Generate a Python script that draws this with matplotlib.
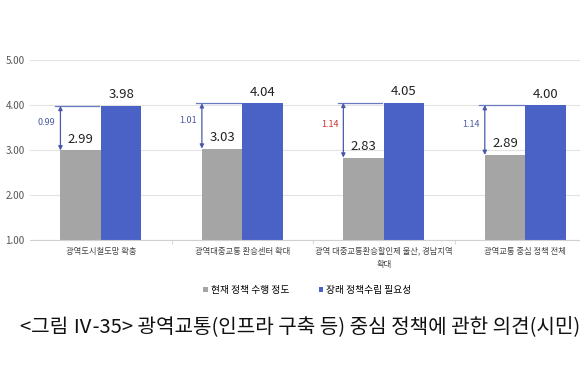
import matplotlib
matplotlib.use("Agg")
import matplotlib.pyplot as plt
import numpy as np

plt.rcParams['font.family'] = ['Noto Sans CJK KR', 'DejaVu Sans']

categories = ["광역도시철도망 확충", "광역대중교통 환승센터 확대",
              "광역 대중교통환승할인제 울산, 경남지역\n확대", "광역교통 중심 정책 전체"]
current = [2.99, 3.03, 2.83, 2.89]
future = [3.98, 4.04, 4.05, 4.00]
gaps = ["0.99", "1.01", "1.14", "1.14"]
gap_colors = ["#4a5a9e", "#4a5a9e", "#d03030", "#4a5a9e"]
series_names = ["현재 정책 수행 정도", "장래 정책수립 필요성"]
yticks = [1.0, 2.0, 3.0, 4.0, 5.0]

fig = plt.figure(figsize=(5.8, 3.9), dpi=100)
ax = fig.add_axes([0.052, 0.385, 0.948, 0.461])

x = np.arange(len(categories))
w = 0.286
gray = "#a5a5a5"
blue = "#4a62c6"
ax.bar(x - w/2, np.array(current) - 1, bottom=1, width=w, color=gray, label=series_names[0])
ax.bar(x + w/2, np.array(future) - 1, bottom=1, width=w, color=blue, label=series_names[1])

for i in range(len(categories)):
    ax.text(x[i] - w/2, current[i] + 0.1, f"{current[i]:.2f}", ha='center', va='bottom',
            fontsize=9.5, color='#222222')
    ax.text(x[i] + w/2, future[i] + 0.1, f"{future[i]:.2f}", ha='center', va='bottom',
            fontsize=9.5, color='#222222')
    ax_x = x[i] - w
    ax.plot([ax_x - 0.04, x[i] - 0.01], [future[i], future[i]], color='#6a7ac0', lw=0.9)
    ax.annotate("", xy=(ax_x, future[i]), xytext=(ax_x, current[i]),
                arrowprops=dict(arrowstyle='<|-|>', color='#4a5aa8', lw=0.9,
                                mutation_scale=6, shrinkA=0, shrinkB=0))
    ax.text(ax_x - 0.035, (current[i] + future[i]) / 2 + 0.12, gaps[i], ha='right', va='center',
            fontsize=6.5, color=gap_colors[i])

ax.set_ylim(1, 5)
ax.set_xlim(-0.5, 3.387)
ax.set_yticks(yticks)
ax.set_yticklabels([f"{t:.2f}" for t in yticks], fontsize=7, color='#555555')
ax.tick_params(axis='y', length=0, pad=4)
ax.set_xticks(x)
ax.set_xticklabels(categories, fontsize=6, color='#444444', linespacing=1.6)
ax.tick_params(axis='x', length=0, pad=5)
ax.set_xticks([0.5, 1.5, 2.5], minor=True)
ax.tick_params(axis='x', which='minor', length=3, color='#d0d0d0')
ax.grid(axis='y', color='#e3e3e3', lw=0.8)
ax.set_axisbelow(True)
for s in ['top', 'right', 'left']:
    ax.spines[s].set_visible(False)
ax.spines['bottom'].set_color('#d0d0d0')

fig.legend(loc='center', bbox_to_anchor=(0.53, 0.256), ncol=2, frameon=False, fontsize=7,
           handlelength=0.5, handleheight=0.5, handletextpad=0.3, columnspacing=3)

fig.text(0.517, 0.163, "<그림 Ⅳ-35> 광역교통(인프라 구축 등) 중심 정책에 관한 의견(시민)",
         ha='center', va='center', fontsize=14.5, color='#111111')

fig.savefig("out.png", dpi=100, facecolor='white')
